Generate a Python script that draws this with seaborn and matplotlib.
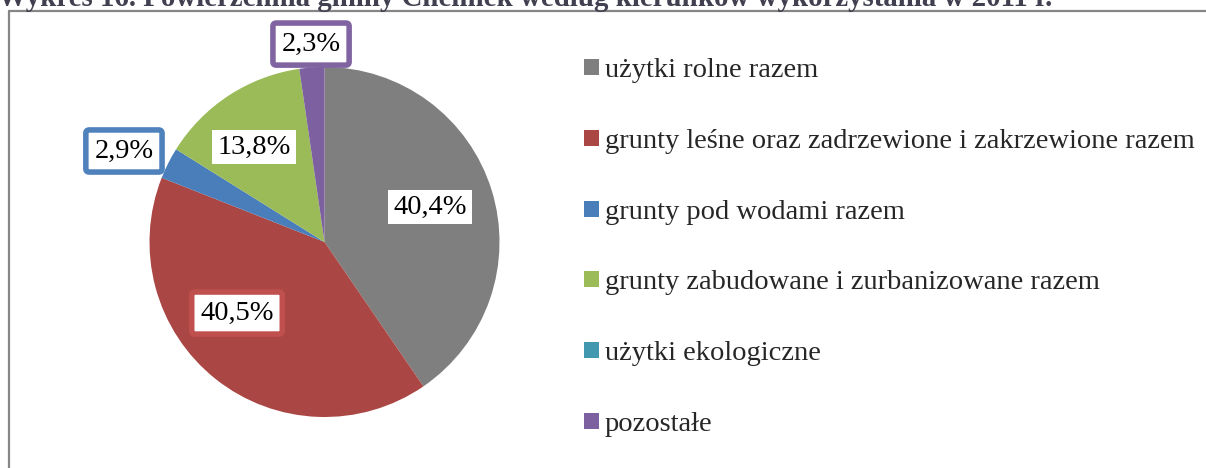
import matplotlib
matplotlib.use("Agg")
import matplotlib.pyplot as plt
import seaborn as sns
from matplotlib.lines import Line2D

# Land use structure of the commune (share of total area, %)
categories = [
    "użytki rolne razem",
    "grunty leśne oraz zadrzewione i zakrzewione razem",
    "grunty pod wodami razem",
    "grunty zabudowane i zurbanizowane razem",
    "użytki ekologiczne",
    "pozostałe",
]
shares = [40.4, 40.5, 2.9, 13.8, 0.0, 2.3]
slice_colors = ["#7F7F7F", "#AA4643", "#4A7EBB", "#9BBB59", "#4198AF", "#7D60A0"]
label_borders = [None, "#C0504D", "#4F81BD", None, None, "#8064A2"]
title = "Wykres 16. Powierzchnia gminy Chełmek według kierunków wykorzystania w 2011 r."

sns.set_theme(style="white")
plt.rcParams["font.family"] = ["Liberation Serif", "DejaVu Serif"]

W, H = 1206, 468
fig = plt.figure(figsize=(W / 100, H / 100), dpi=100)
fig.patch.set_facecolor("white")

# Pie axes: centre (324.5, 242) px, radius 175 px
cx, cy, r = 324.5, 242, 175
ax = fig.add_axes([(cx - r) / W, (H - cy - r) / H, 2 * r / W, 2 * r / H])
palette = sns.color_palette(slice_colors)
wedges, _ = ax.pie(shares, colors=palette, startangle=90, counterclock=False,
                   radius=1.0, wedgeprops=dict(linewidth=0))
ax.set_xlim(-1, 1)
ax.set_ylim(-1, 1)
ax.set_aspect("equal")
ax.axis("off")

# Label positions (pie data units)
label_pos = {
    0: (0.603, 0.20),
    1: (-0.50, -0.406),
    2: (-1.146, 0.52),
    3: (-0.403, 0.543),
    5: (-0.077, 1.131),
}
for i, (x, y) in label_pos.items():
    txt = f"{shares[i]:.1f}%".replace(".", ",")
    ec = label_borders[i]
    if ec is None:
        box = dict(boxstyle="square,pad=0.17", fc="white", ec="none")
    else:
        box = dict(boxstyle="round,pad=0.3,rounding_size=0.12", fc="white", ec=ec, lw=4)
    ax.text(x, y, txt, ha="center", va="center", fontsize=20.5, color="black",
            bbox=box, clip_on=False, zorder=5)

# Legend
leg = fig.legend(wedges, categories, loc="upper left",
                 bbox_to_anchor=(573 / W, 1 - 47 / H), frameon=False,
                 fontsize=20.5, handlelength=0.5, handleheight=0.5,
                 handletextpad=0.22, labelspacing=1.605, borderaxespad=0)

# Chart area frame (left and top edges)
frame_col = "#868686"
fig.add_artist(Line2D([9 / W, 9 / W], [0, 1 - 11 / H], color=frame_col, lw=1.6,
                      transform=fig.transFigure))
fig.add_artist(Line2D([9 / W, 1], [1 - 11 / H, 1 - 11 / H], color=frame_col, lw=1.6,
                      transform=fig.transFigure))

# Title
fig.text(-2 / W, 1 - 6 / H, title, ha="left", va="baseline", fontsize=20.8,
         fontweight="bold", color="#404050")

fig.savefig("out.png", dpi=100, facecolor="white")
